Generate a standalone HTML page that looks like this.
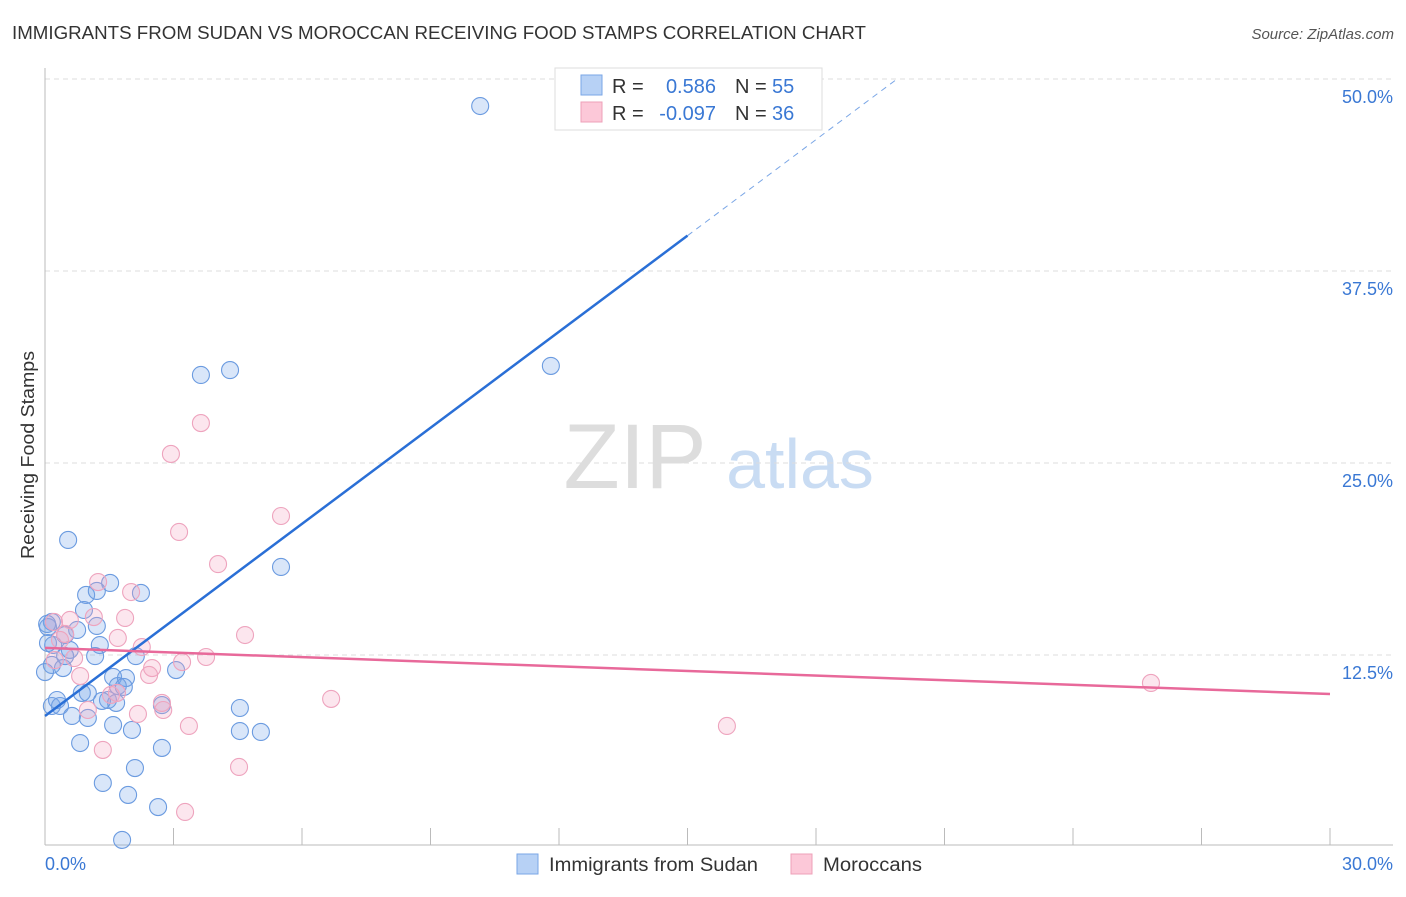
<!DOCTYPE html>
<html><head><meta charset="utf-8"><style>
body{margin:0;background:#fff;font-family:"Liberation Sans",sans-serif;}
svg text{font-family:"Liberation Sans",sans-serif;}
</style></head><body>
<svg id="chart" width="1406" height="892" xmlns="http://www.w3.org/2000/svg">
<text x="12" y="39" font-size="18" fill="#333" textLength="854" lengthAdjust="spacingAndGlyphs">IMMIGRANTS FROM SUDAN VS MOROCCAN RECEIVING FOOD STAMPS CORRELATION CHART</text>
<text x="1394" y="39" font-size="15" fill="#555" text-anchor="end" font-style="italic">Source: ZipAtlas.com</text>
<text transform="translate(34,455) rotate(-90)" font-size="18" fill="#333" text-anchor="middle" textLength="208" lengthAdjust="spacingAndGlyphs">Receiving Food Stamps</text>
<g>
<text x="635" y="488" font-size="92" fill="#ddd" text-anchor="middle" font-family="Liberation Serif">ZIP</text>
<text x="800" y="488" font-size="70" fill="#c9dcf3" text-anchor="middle">atlas</text>
</g>
<g id="grid"></g><g id="axes"></g><g id="pts"></g><g id="lines"></g>
<g>
<rect x="555" y="68" width="267" height="62" fill="#fff" stroke="#ddd"/>
<rect x="581" y="75" width="21" height="20" fill="#b7d1f5" stroke="#7aa6e6"/>
<rect x="581" y="102" width="21" height="20" fill="#fcc8d8" stroke="#eea0b8"/>
<text x="612" y="93" font-size="20" fill="#333">R =</text>
<text x="716" y="93" font-size="20" fill="#3a78d4" text-anchor="end">0.586</text>
<text x="735" y="93" font-size="20" fill="#333">N =</text>
<text x="772" y="93" font-size="20" fill="#3a78d4">55</text>
<text x="612" y="120" font-size="20" fill="#333">R =</text>
<text x="716" y="120" font-size="20" fill="#3a78d4" text-anchor="end">-0.097</text>
<text x="735" y="120" font-size="20" fill="#333">N =</text>
<text x="772" y="120" font-size="20" fill="#3a78d4">36</text>
</g>
<g>
<rect x="517" y="854" width="21" height="20" fill="#b7d1f5" stroke="#7aa6e6"/>
<text x="549" y="871" font-size="19" fill="#333" textLength="209" lengthAdjust="spacingAndGlyphs">Immigrants from Sudan</text>
<rect x="791" y="854" width="21" height="20" fill="#fcc8d8" stroke="#eea0b8"/>
<text x="823" y="871" font-size="19" fill="#333" textLength="99" lengthAdjust="spacingAndGlyphs">Moroccans</text>
</g>
</svg>
<script>
const yTicks=[12.5,25,37.5,50];
const yTickLabels=["12.5%","25.0%","37.5%","50.0%"];
const xTicks=[0,3,6,9,12,15,18,21,24,27,30];
const xEndLabels=["0.0%","30.0%"];
const sudanX=[10.16,4.32,3.64,11.81,5.51,0.54,1.52,2.24,0.96,1.21,0.91,1.21,0.75,0.16,0.07,0.47,1.28,0.19,0.58,1.17,2.12,0.16,0.42,0,3.06,1.59,1.89,1.70,1.84,0.86,1.00,1.47,1.33,1.66,2.73,4.55,0.16,0.35,0.63,1.00,1.59,2.03,4.55,5.04,0.82,2.73,2.10,1.35,1.94,2.64,1.80,0.07,0.47,0.05,0.28];
const sudanY=[48.24,31.05,30.73,31.32,18.23,19.99,17.19,16.54,16.41,16.67,15.43,14.39,14.13,14.65,14.32,13.80,13.15,13.15,12.83,12.43,12.43,11.85,11.65,11.39,11.52,11.07,11.00,10.48,10.42,10.03,10.03,9.57,9.51,9.38,9.24,9.05,9.18,9.18,8.53,8.40,7.94,7.62,7.55,7.49,6.77,6.45,5.14,4.17,3.39,2.60,0.46,13.28,12.43,14.52,9.57];
const morX=[3.64,2.94,3.13,5.51,4.04,1.24,2.01,0.21,1.87,1.14,0.47,1.70,4.67,2.26,0.68,3.76,3.20,2.50,2.43,0.82,1.54,6.68,2.73,2.76,2.17,1.00,3.36,15.92,1.35,4.53,3.27,25.82,0.23,0.35,0.58,1.68];
const morY=[27.60,25.59,20.51,21.55,18.42,17.25,16.60,14.65,14.91,14.97,13.87,13.61,13.80,13.02,12.30,12.37,12.04,11.65,11.20,11.13,9.90,9.64,9.38,8.92,8.66,8.92,7.88,7.88,6.32,5.21,2.28,10.68,12.17,13.48,14.78,10.03];
const sudanFit=[8.53,39.8];   // y at x=0 and x=15
const morFit=[12.96,9.96];    // y at x=0 and x=30

const NS="http://www.w3.org/2000/svg";
const sx=v=>45+v*(1285/30);
const sy=v=>847-v*15.36;
function mk(tag,parent,attrs){const e=document.createElementNS(NS,tag);for(const k in attrs)e.setAttribute(k,attrs[k]);document.getElementById(parent).appendChild(e);return e;}

yTicks.forEach((t,i)=>{
  const l=mk('line','grid',{x1:45,x2:1393,y1:sy(t),y2:sy(t),stroke:'#ddd','stroke-dasharray':'5,4'});
  
  
  const tx=mk('text','axes',{x:1393,y:sy(t)+24,'font-size':18,fill:'#3a78d4','text-anchor':'end'});
  tx.textContent=yTickLabels[i];
  
  
});
const xa=mk('line','axes',{x1:45,x2:1393,y1:845,y2:845,stroke:'#bbb'});


const ya=mk('line','axes',{x1:45,x2:45,y1:68,y2:845,stroke:'#bbb'});


xTicks.forEach(t=>{
  const l=mk('line','axes',{x1:sx(t),x2:sx(t),y1:828,y2:845,stroke:'#bbb'});
  
  
});
[[0,'start',45],[30,'end',1393]].forEach((d,i)=>{
  const tx=mk('text','axes',{x:d[2],y:870,'font-size':18,fill:'#3a78d4','text-anchor':d[1]});
  tx.textContent=xEndLabels[i];
  
  
});
sudanX.forEach((v,i)=>{
  const c=mk('circle','pts',{cx:sx(v),cy:sy(sudanY[i]),r:8.5,fill:'rgba(120,165,235,0.28)',stroke:'#6b9be0','stroke-width':1.1});
  
  
});
morX.forEach((v,i)=>{
  const c=mk('circle','pts',{cx:sx(v),cy:sy(morY[i]),r:8.5,fill:'rgba(245,165,195,0.28)',stroke:'#eea4be','stroke-width':1.1});
  
  
});
const slope=(sudanFit[1]-sudanFit[0])/15;
const b1=mk('line','lines',{x1:sx(0),y1:sy(sudanFit[0]),x2:sx(15),y2:sy(sudanFit[1]),stroke:'#2a6fd6','stroke-width':2.5});


const xEnd=(50-sudanFit[0])/slope;
const b2=mk('line','lines',{x1:sx(15),y1:sy(sudanFit[1]),x2:sx(xEnd),y2:sy(50),stroke:'#7aa6e6','stroke-width':1,'stroke-dasharray':'6,5'});


const p1=mk('line','lines',{x1:sx(0),y1:sy(morFit[0]),x2:sx(30),y2:sy(morFit[1]),stroke:'#e8699a','stroke-width':2.5});


</script>
</body></html>
